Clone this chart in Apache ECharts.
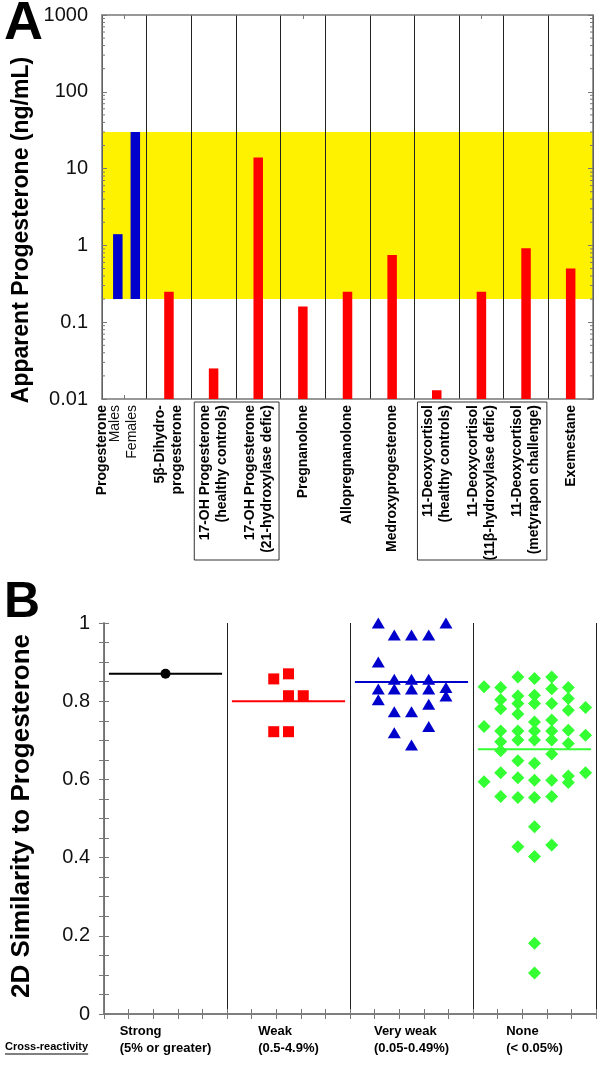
<!DOCTYPE html>
<html><head><meta charset="utf-8">
<script src="https://cdn.jsdelivr.net/npm/echarts@6/dist/echarts.min.js"></script>
<style>html,body{margin:0;padding:0;background:#fff}#c{width:600px;height:1070px}</style>
</head><body><div id="c"></div>
<script>
// ---------- Panel A data ----------
const analytes = ['Progesterone', '5β-Dihydro-\nprogesterone', '17-OH Progesterone\n(healthy controls)',
  '17-OH Progesterone\n(21-hydroxylase defic)', 'Pregnanolone', 'Allopregnanolone', 'Medroxyprogesterone',
  '11-Deoxycortisol\n(healthy controls)', '11-Deoxycortisol\n(11β-hydroxylase defic)',
  '11-Deoxycortisol\n(metyrapon challenge)', 'Exemestane'];
const sexLabels = ['Males', 'Females'];
const progRangeLow = [0.2, 0.2];
const progRangeHigh = [1.4, 30];
const apparentProg = [null, 0.25, 0.025, 14, 0.16, 0.25, 0.75, 0.013, 0.25, 0.92, 0.5];
const refRange = [0.2, 30];
const yMinA = 0.01, yMaxA = 1000;
const boxedGroups = [[2, 3], [7, 9]];

// ---------- Panel B data ----------
const crossLabels = ['Strong\n(5% or greater)', 'Weak\n(0.5-4.9%)', 'Very weak\n(0.05-0.49%)', 'None\n(< 0.05%)'];
const strongPts = [[0.5, 0.870]];
const weakPts = [[1.38, 0.857], [1.5, 0.870], [1.5, 0.814], [1.62, 0.814], [1.38, 0.722], [1.5, 0.722]];
const veryWeakPts = [
  [2.23, 1.0], [2.78, 1.0],
  [2.36, 0.969], [2.5, 0.969], [2.64, 0.969],
  [2.23, 0.900],
  [2.36, 0.856], [2.5, 0.856], [2.64, 0.856],
  [2.23, 0.831], [2.36, 0.831], [2.5, 0.831], [2.64, 0.831], [2.78, 0.835],
  [2.23, 0.804], [2.78, 0.813],
  [2.64, 0.792],
  [2.36, 0.773], [2.5, 0.773],
  [2.64, 0.735],
  [2.36, 0.719],
  [2.5, 0.688]];
const nonePts = [
  [3.365, 0.862], [3.5, 0.858], [3.64, 0.862],
  [3.09, 0.837], [3.225, 0.835], [3.64, 0.832], [3.775, 0.835],
  [3.225, 0.804], [3.365, 0.813], [3.5, 0.815], [3.775, 0.807],
  [3.365, 0.794], [3.5, 0.794], [3.64, 0.794],
  [3.225, 0.781], [3.365, 0.767], [3.775, 0.777], [3.915, 0.784],
  [3.5, 0.747], [3.64, 0.752],
  [3.09, 0.735], [3.225, 0.724], [3.365, 0.724], [3.5, 0.724], [3.64, 0.724], [3.775, 0.726], [3.915, 0.713],
  [3.225, 0.696], [3.365, 0.701], [3.5, 0.701], [3.64, 0.701], [3.775, 0.692],
  [3.225, 0.673], [3.64, 0.665],
  [3.365, 0.648], [3.5, 0.641],
  [3.225, 0.617], [3.915, 0.617],
  [3.09, 0.594], [3.365, 0.604], [3.5, 0.598], [3.64, 0.598], [3.775, 0.609], [3.775, 0.592],
  [3.225, 0.556], [3.365, 0.554], [3.5, 0.554], [3.64, 0.556],
  [3.5, 0.479],
  [3.365, 0.428], [3.64, 0.432],
  [3.5, 0.403],
  [3.5, 0.181], [3.5, 0.105]];
const groupMeans = [0.870, 0.800, 0.849, 0.677];

// ---------- styling ----------
const FF = '"Liberation Sans", Arial, sans-serif';
const AX = '#777';
const SEP = '#222';
const RED = '#FF0000', BLUE = '#0000CC', GREEN = '#33FF33', YELLOW = '#FFF200';
const groupColors = ['#000000', RED, BLUE, GREEN];
const sexBarOffsets = [-6.5, 11];
const BAR_W = 9.5;

const chart = echarts.init(document.getElementById('c'), null, {renderer: 'canvas'});

function frameAxis(extra) {
  return Object.assign({
    z: 3,
    axisLine: {show: true, lineStyle: {color: AX, width: 1.5}},
    axisTick: {show: true, inside: true, length: 5, lineStyle: {color: AX}},
    splitLine: {show: false}
  }, extra);
}

function barItem(color, offsets) {
  return function (params, api) {
    const x = api.value(0), lo = api.value(1), hi = api.value(2);
    const pTop = api.coord([x, hi]);
    const pBot = api.coord([x, lo]);
    const off = offsets ? offsets[params.dataIndex] : 0;
    return {type: 'rect', shape: {x: pTop[0] + off - BAR_W / 2, y: pTop[1], width: BAR_W, height: pBot[1] - pTop[1]},
      style: {fill: color}};
  };
}

const labelRich = {
  b: {fontFamily: FF, fontWeight: 'bold', fontSize: 14, lineHeight: 17, color: '#000'},
  b0: {fontFamily: FF, fontWeight: 'bold', fontSize: 14, lineHeight: 14, color: '#000'},
  n: {fontFamily: FF, fontSize: 14, lineHeight: 13, color: '#111'},
  f: {fontFamily: FF, fontSize: 14, lineHeight: 21, color: '#111'},
  p: {fontFamily: FF, fontSize: 14, lineHeight: 11}
};

const option = {
  animation: false,
  backgroundColor: '#fff',
  textStyle: {fontFamily: FF},
  grid: [
    {left: 102, right: 7, top: 15, height: 384},
    {left: 104, right: 4, top: 623, height: 391}
  ],
  xAxis: [
    frameAxis({type: 'category', gridIndex: 0, position: 'bottom', data: analytes, boundaryGap: true,
      axisTick: {show: true, inside: true, alignWithLabel: true, length: 4, lineStyle: {color: AX}},
      splitLine: {show: true, lineStyle: {color: SEP, width: 1}},
      axisLabel: {show: true, interval: 0, rotate: 90, margin: 6, rich: labelRich,
        formatter: function (val, idx) {
          if (idx === 0) return '{b0|' + val + '}\n{n|' + sexLabels[0] + '}\n{f|' + sexLabels[1] + '}\n{p| }';
          return val.split('\n').map(s => '{b|' + s + '}').join('\n');
        }}}),
    frameAxis({type: 'category', gridIndex: 0, position: 'top', data: analytes, boundaryGap: true,
      axisTick: {show: true, inside: true, alignWithLabel: true, length: 4, lineStyle: {color: AX}},
      axisLabel: {show: false}}),
    frameAxis({type: 'value', gridIndex: 1, position: 'bottom', min: 0, max: 4, interval: 1,
      minorTick: {show: true, splitNumber: 5, length: 5, lineStyle: {color: AX}},
      splitLine: {show: true, lineStyle: {color: SEP, width: 1}},
      axisLabel: {show: false}}),
    frameAxis({type: 'value', gridIndex: 1, position: 'top', min: 0, max: 4, interval: 1,
      minorTick: {show: true, splitNumber: 5, length: 5, lineStyle: {color: AX}},
      axisLabel: {show: false}}),
    {type: 'category', gridIndex: 1, position: 'bottom', data: crossLabels, boundaryGap: true,
      axisLine: {show: false}, axisTick: {show: false}, splitLine: {show: false},
      axisLabel: {show: true, interval: 0, margin: 9, align: 'center',
        rich: {l: {align: 'left', fontFamily: FF, fontWeight: 'bold', fontSize: 13, lineHeight: 17, color: '#000'}},
        formatter: v => v.split('\n').map(s => '{l|' + s + '}').join('\n')}}
  ],
  yAxis: [
    frameAxis({type: 'log', gridIndex: 0, position: 'left', logBase: 10, min: yMinA, max: yMaxA,
      axisLabel: {show: true, fontSize: 20, margin: 14, color: '#111', fontFamily: FF,
        formatter: v => String(parseFloat(Number(v).toPrecision(6)))}}),
    frameAxis({type: 'log', gridIndex: 0, position: 'right', logBase: 10, min: yMinA, max: yMaxA,
      axisLabel: {show: false}}),
    frameAxis({type: 'value', gridIndex: 1, position: 'left', min: 0, max: 1, interval: 0.2,
      minorTick: {show: true, splitNumber: 4, length: 5, lineStyle: {color: AX}},
      axisLabel: {show: true, fontSize: 20, margin: 14, color: '#111', fontFamily: FF}}),
    frameAxis({type: 'value', gridIndex: 1, position: 'right', min: 0, max: 1, interval: 0.2,
      minorTick: {show: true, splitNumber: 4, length: 5, lineStyle: {color: AX}},
      axisLabel: {show: false}})
  ],
  series: [
    // reference band
    {type: 'custom', xAxisIndex: 0, yAxisIndex: 0, z: 1, silent: true,
      data: [[0, refRange[0], refRange[1]]], encode: {x: 0, y: [1, 2]},
      renderItem: function (params, api) {
        const cs = params.coordSys;
        const yTop = api.coord([0, api.value(2)])[1];
        const yBot = api.coord([0, api.value(1)])[1];
        return {type: 'rect', shape: {x: cs.x, y: yTop, width: cs.width, height: yBot - yTop}, style: {fill: YELLOW}};
      }},
    // log minor ticks (left and right frame)
    {type: 'custom', xAxisIndex: 0, yAxisIndex: 0, z: 4, silent: true, data: [[0, 1]],
      renderItem: function (params, api) {
        const cs = params.coordSys;
        const kids = [];
        for (let d = -2; d < 3; d++) {
          for (let m = 2; m <= 9; m++) {
            const y = api.coord([0, m * Math.pow(10, d)])[1];
            kids.push({type: 'line', shape: {x1: cs.x, y1: y, x2: cs.x + 3, y2: y}, style: {stroke: AX, lineWidth: 1}});
            kids.push({type: 'line', shape: {x1: cs.x + cs.width, y1: y, x2: cs.x + cs.width - 3, y2: y}, style: {stroke: AX, lineWidth: 1}});
          }
        }
        return {type: 'group', children: kids};
      }},
    // apparent progesterone bars
    {type: 'custom', name: 'Apparent progesterone', xAxisIndex: 0, yAxisIndex: 0, z: 5,
      data: apparentProg.map((v, i) => v == null ? null : [i, yMinA, v]).filter(d => d),
      encode: {x: 0, y: [1, 2]}, renderItem: barItem(RED)},
    // progesterone reference ranges (males / females)
    {type: 'custom', name: 'Progesterone', xAxisIndex: 0, yAxisIndex: 0, z: 5,
      data: progRangeLow.map((lo, i) => [0, lo, progRangeHigh[i]]),
      encode: {x: 0, y: [1, 2]}, renderItem: barItem(BLUE, sexBarOffsets)},
    // panel B mean lines
    ...groupMeans.map((m, i) => ({type: 'line', xAxisIndex: 2, yAxisIndex: 2, z: 2, symbol: 'none', silent: true,
      data: [[i + 0.04, m], [i + 0.96, m]], lineStyle: {color: groupColors[i], width: 2}})),
    // panel B points
    {type: 'scatter', xAxisIndex: 2, yAxisIndex: 2, z: 3, clip: false, symbol: 'circle', symbolSize: 10,
      itemStyle: {color: groupColors[0], opacity: 1}, data: strongPts},
    {type: 'scatter', xAxisIndex: 2, yAxisIndex: 2, z: 3, clip: false, symbol: 'rect', symbolSize: 11,
      itemStyle: {color: groupColors[1], opacity: 1}, data: weakPts},
    {type: 'scatter', xAxisIndex: 2, yAxisIndex: 2, z: 3, clip: false, symbol: 'triangle', symbolSize: [13, 11],
      itemStyle: {color: groupColors[2], opacity: 1}, data: veryWeakPts},
    {type: 'scatter', xAxisIndex: 2, yAxisIndex: 2, z: 3, clip: false, symbol: 'diamond', symbolSize: 13,
      itemStyle: {color: groupColors[3], opacity: 1}, data: nonePts}
  ],
  graphic: {elements: [
    {type: 'text', id: 'lblA', x: 4, y: -3, style: {text: 'A', font: 'bold 54px ' + FF, fill: '#000', align: 'left', verticalAlign: 'top'}},
    {type: 'text', id: 'lblB', x: 4, y: 578, style: {text: 'B', font: 'bold 50px ' + FF, fill: '#000', align: 'left', verticalAlign: 'top'}},
    {type: 'text', id: 'titA', x: 22, y: 230, rotation: Math.PI / 2,
      style: {text: 'Apparent Progesterone (ng/mL)', font: 'bold 23px ' + FF, fill: '#000', align: 'center', verticalAlign: 'middle'}},
    {type: 'text', id: 'titB', x: 22, y: 816, rotation: Math.PI / 2,
      style: {text: '2D Similarity to Progesterone', font: 'bold 26px ' + FF, fill: '#000', align: 'center', verticalAlign: 'middle'}},
    {type: 'text', id: 'cross', x: 5, y: 1047, style: {text: 'Cross-reactivity', font: 'bold 11px ' + FF, fill: '#000', align: 'left', verticalAlign: 'middle'}}
  ]}
};
chart.setOption(option);

// boxes around grouped labels and underline, placed from the axis scales
const xc0 = chart.convertToPixel({xAxisIndex: 0}, 0);
const xc1 = chart.convertToPixel({xAxisIndex: 0}, 1);
const bw = xc1 - xc0;
const yBottomA = chart.convertToPixel({yAxisIndex: 0}, yMinA);
const extra = boxedGroups.map((g, k) => {
  const xl = chart.convertToPixel({xAxisIndex: 0}, g[0]) - bw / 2 + 3;
  const xr = chart.convertToPixel({xAxisIndex: 0}, g[1]) + bw / 2 - 1.5;
  return {type: 'rect', id: 'box' + k, shape: {x: xl, y: yBottomA + 3, width: xr - xl, height: 158},
    style: {fill: 'none', stroke: '#333', lineWidth: 1}, z: 10};
});
const crossW = echarts.format.getTextRect ? echarts.format.getTextRect('Cross-reactivity', 'bold 11px ' + FF).width : 83;
extra.push({type: 'line', id: 'ul', shape: {x1: 5, y1: 1054, x2: 5 + crossW, y2: 1054}, style: {stroke: '#000', lineWidth: 1}});
chart.setOption({graphic: {elements: extra}});
</script>
</body></html>
